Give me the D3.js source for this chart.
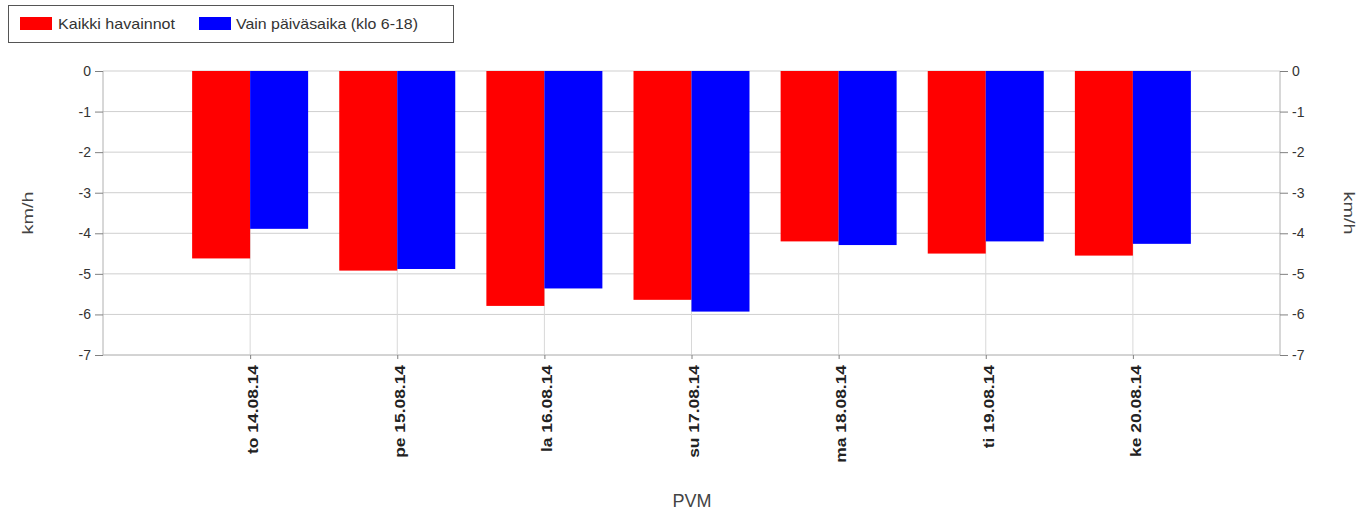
<!DOCTYPE html>
<html><head><meta charset="utf-8">
<script src="https://cdn.jsdelivr.net/npm/d3@7"></script>
<style>body{margin:0;background:#fff;font-family:"Liberation Sans",Arial,sans-serif;}</style>
</head><body><svg id="c" width="1372" height="513"></svg>
<script>
const categories = ["to 14.08.14","pe 15.08.14","la 16.08.14","su 17.08.14","ma 18.08.14","ti 19.08.14","ke 20.08.14"];
const allObs = [-4.62,-4.92,-5.79,-5.64,-4.2,-4.5,-4.55];
const daytime = [-3.89,-4.88,-5.36,-5.93,-4.29,-4.2,-4.26];
const seriesNames = ["Kaikki havainnot","Vain päiväsaika (klo 6-18)"];
const seriesColors = ["#ff0000","#0000ff"];
const yTicks = [0,-1,-2,-3,-4,-5,-6,-7];

const svg = d3.select("#c");
const L=103,R=1280,T=71,B=355;
const x = d3.scalePoint().domain(categories).range([L,R]).padding(1);
const y = d3.scaleLinear().domain([0,-7]).range([T,B]);
const bw = 58;

// grid
svg.append("g").selectAll("line").data(yTicks).join("line")
  .attr("x1",L).attr("x2",R).attr("y1",d=>y(d)).attr("y2",d=>y(d))
  .attr("stroke","#cfcfcf").attr("stroke-width",1);
svg.append("g").selectAll("line").data(categories).join("line")
  .attr("x1",d=>x(d)).attr("x2",d=>x(d)).attr("y1",T).attr("y2",B)
  .attr("stroke","#d8d8d8").attr("stroke-width",1);

// bars
const series=[allObs,daytime];
series.forEach((vals,si)=>{
  svg.append("g").selectAll("rect").data(vals).join("rect")
    .attr("x",(d,i)=>x(categories[i]) + (si===0?-bw:0))
    .attr("width",bw)
    .attr("y",y(0))
    .attr("height",d=>y(d)-y(0))
    .attr("fill",seriesColors[si]);
});

// axes
const fmt = d=>String(d);
const yl = svg.append("g").attr("transform",`translate(${L},0)`)
  .call(d3.axisLeft(y).tickValues(yTicks).tickSize(8).tickPadding(4).tickFormat(fmt));
const yr = svg.append("g").attr("transform",`translate(${R},0)`)
  .call(d3.axisRight(y).tickValues(yTicks).tickSize(8).tickPadding(4).tickFormat(fmt));
const xa = svg.append("g").attr("transform",`translate(0,${B})`)
  .call(d3.axisBottom(x).tickSize(4).tickPadding(6));
[yl,yr,xa].forEach(g=>{
  g.selectAll("path").attr("stroke","#b0b0b0");
  g.selectAll("line").attr("stroke","#808080");
  g.selectAll("text").attr("font-family","Liberation Sans, Arial, sans-serif").attr("font-size",14).attr("fill","#333");
});
yl.select("path").attr("d",`M0,${T}V${B}`);
yr.select("path").attr("d",`M0,${T}V${B}`);
xa.select("path").attr("d",`M${L},0H${R}`).attr("stroke","#c0c0c0");
xa.selectAll("text").attr("font-weight","bold").attr("font-size",15).attr("fill","#222")
  .attr("text-anchor","end").attr("dy","0.35em")
  .attr("transform","translate(2,5) rotate(-90)").attr("x",-5).attr("y",0)
  .attr("textLength",function(){return this.getComputedTextLength()*1.16;})
  .attr("lengthAdjust","spacingAndGlyphs");

// axis titles
svg.append("text").attr("transform","translate(33,213) rotate(-90)").attr("text-anchor","middle")
  .attr("font-size",15).attr("fill","#444").attr("textLength",43).attr("lengthAdjust","spacingAndGlyphs").text("km/h");
svg.append("text").attr("transform","translate(1344,213) rotate(90)").attr("text-anchor","middle")
  .attr("font-size",15).attr("fill","#444").attr("textLength",43).attr("lengthAdjust","spacingAndGlyphs").text("km/h");
svg.append("text").attr("x",692).attr("y",507).attr("text-anchor","middle")
  .attr("font-size",18).attr("fill","#444").text("PVM");

// legend
svg.append("rect").attr("x",8.5).attr("y",5.5).attr("width",445).attr("height",37)
  .attr("fill","#fff").attr("stroke","#555").attr("stroke-width",1);
const lx=[20,199], tx=[58,236], tl=[117,182];
seriesNames.forEach((n,i)=>{
  svg.append("rect").attr("x",lx[i]).attr("y",17).attr("width",32).attr("height",13).attr("fill",seriesColors[i]);
  svg.append("text").attr("x",tx[i]).attr("y",29).attr("font-size",15).attr("fill","#333")
    .attr("textLength",tl[i]).attr("lengthAdjust","spacingAndGlyphs").text(n);
});
</script></body></html>
